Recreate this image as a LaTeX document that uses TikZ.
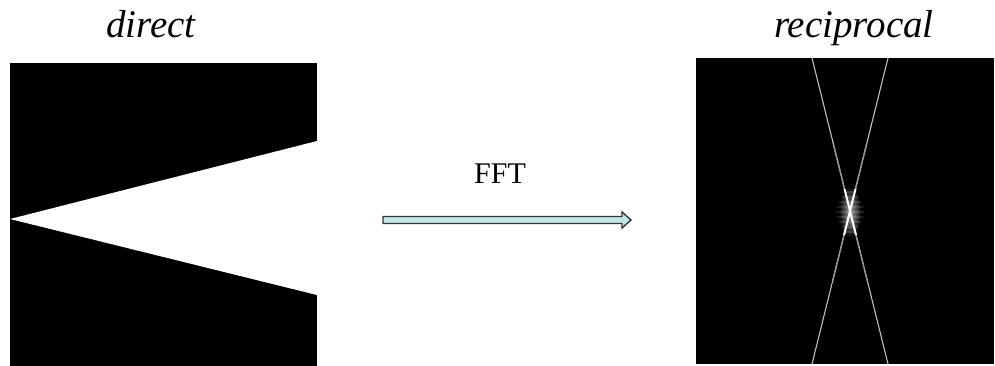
\documentclass[tikz,border=0pt]{standalone}
\usepackage{fontspec}
\setmainfont{Liberation Serif}
\usetikzlibrary{calc}
\definecolor{arrowfill}{HTML}{C4E6E8}
\definecolor{arrowline}{HTML}{303838}
\tikzset{
  title/.style={anchor=base, inner sep=0pt, font=\fontsize{39}{44}\selectfont\itshape},
  fftlabel/.style={anchor=base, inner sep=0pt, font=\fontsize{30}{34}\selectfont},
  fftarrow/.style={draw=arrowline, fill=arrowfill, line width=1.4pt, line join=miter},
  ray/.style={line width=1.1pt, draw=gray!50},
}
\begin{document}
\begin{tikzpicture}[x=1pt,y=-1pt]
\useasboundingbox (0,0) rectangle (995,366);
\fill[white] (0,0) rectangle (995,366);
% titles
\node[title] (tdirect) at (151,38) {direct};
\node[title] (trecip) at (854,38) {reciprocal};
% direct panel
\coordinate (apex) at (10,219);
\fill[black] (10,63) rectangle (317,366);
\fill[white] (apex) -- (317,141) -- (317,295) -- cycle;
% reciprocal panel
\fill[black] (696,58) rectangle (994,364);
\coordinate (cross) at (850,212);
\shade[inner color=gray!70, outer color=black] (cross) ellipse (11 and 26);
\foreach \dy/\w in {-20/6,-15/8,-10/11,-5/13,0/14,5/13,10/11,15/8,20/6}{
  \fill[white, opacity=0.12] ($(cross)+(-\w,\dy-1)$) rectangle ($(cross)+(\w,\dy+1)$);
}
\draw[ray] (812,58) -- (888,364);
\draw[ray] (888,58) -- (812,364);
\begin{scope}
  \clip (800,145) rectangle (900,280);
  \draw[line width=1.3pt, gray!80] (812,58) -- (888,364);
  \draw[line width=1.3pt, gray!80] (888,58) -- (812,364);
\end{scope}
\begin{scope}
  \clip (800,190) rectangle (900,234);
  \draw[line width=2pt, white] (812,58) -- (888,364);
  \draw[line width=2pt, white] (888,58) -- (812,364);
\end{scope}
% FFT label and arrow
\node[fftlabel] (fft) at (500,184) {FFT};
\coordinate (astart) at (383,220);
\coordinate (aend) at (631,220);
\draw[fftarrow] ($(astart)+(0,-3.5)$) -- ($(aend)+(-9,-3.5)$) -- ($(aend)+(-9,-8)$) -- (aend)
  -- ($(aend)+(-9,8)$) -- ($(aend)+(-9,3.5)$) -- ($(astart)+(0,3.5)$) -- cycle;
\end{tikzpicture}
\end{document}
